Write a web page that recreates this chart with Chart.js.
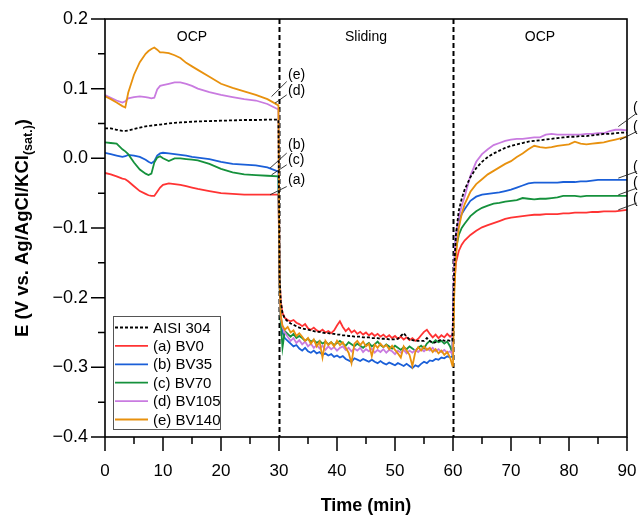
<!DOCTYPE html>
<html>
<head>
<meta charset="utf-8">
<script src="https://cdn.jsdelivr.net/npm/chart.js@4.4.1/dist/chart.umd.min.js"></script>
<style>
  html, body { margin: 0; padding: 0; background: #fff; }
  #c { display: block; }
</style>
</head>
<body>
<canvas id="c" width="638" height="515"></canvas>
<script>
// ---------------- DATA ----------------
// time grid (min): OCP (0-30), Sliding (30-60), OCP (60-90)
const tOCP1 = [0,1,2,3,3.5,4,5,6,7,7.5,8,8.5,9,9.5,10,11,12,13,14,15,16,18,20,22,24,26,28,29.9];
const tSlide = [30.1,30.3,30.6,31,31.5,32,32.5,33,33.5,34,34.5,35,35.5,36,36.5,37,37.5,38,38.5,39,
  39.5,40,40.5,41,41.5,42,42.5,43,43.5,44,44.5,45,45.5,46,46.5,47,47.5,48,48.5,49,
  49.5,50,50.5,51,51.5,52,52.5,53,53.5,54,54.5,55,55.5,56,56.5,57,57.5,58,58.5,59,59.5,59.9];
const tOCP2 = [60,60.2,60.5,61,61.5,62,63,64,65,66,67,68,69,70,71,72,73,74,75,76,77,78,79,80,81,82,83,84,85,86,87,88,89,90];

// AISI 304 (E, V)
const aisi304_ocp1 = [0.043,0.043,0.041,0.0395,0.0395,0.040,0.042,0.044,0.046,0.0465,0.047,0.0475,0.048,0.0485,0.049,0.050,0.051,0.0515,0.052,0.0525,0.053,0.0535,0.054,0.0545,0.055,0.055,0.0555,0.0555];
const aisi304_slide = [-0.170,-0.205,-0.222,-0.230,-0.234,-0.237,-0.239,-0.241,-0.243,-0.244,
  -0.245,-0.246,-0.247,-0.248,-0.249,-0.249,-0.250,-0.251,-0.251,-0.252,
  -0.252,-0.253,-0.253,-0.254,-0.254,-0.255,-0.255,-0.256,-0.256,-0.256,
  -0.257,-0.257,-0.257,-0.258,-0.258,-0.258,-0.259,-0.259,-0.259,-0.260,
  -0.260,-0.260,-0.259,-0.255,-0.251,-0.256,-0.260,-0.261,-0.262,-0.262,
  -0.262,-0.262,-0.258,-0.262,-0.265,-0.264,-0.262,-0.260,-0.262,-0.261,
  -0.262,-0.262];
const aisi304_ocp2 = [-0.23,-0.16,-0.110,-0.075,-0.058,-0.045,-0.027,-0.014,-0.005,0.002,0.007,0.011,0.015,0.018,0.020,0.022,0.024,0.025,0.026,0.027,0.028,0.029,0.030,0.031,0.031,0.032,0.032,0.033,0.034,0.035,0.035,0.036,0.037,0.037];

// (a) BV0
const bv0_ocp1 = [-0.021,-0.023,-0.026,-0.029,-0.030,-0.033,-0.040,-0.047,-0.051,-0.053,-0.054,-0.054,-0.048,-0.042,-0.038,-0.036,-0.037,-0.038,-0.040,-0.042,-0.044,-0.047,-0.050,-0.051,-0.052,-0.052,-0.052,-0.052];
const bv0_slide = [-0.170,-0.205,-0.222,-0.229,-0.232,-0.234,-0.232,-0.236,-0.238,-0.241,
  -0.238,-0.244,-0.246,-0.243,-0.247,-0.249,-0.246,-0.250,-0.248,-0.251,
  -0.247,-0.240,-0.234,-0.242,-0.248,-0.244,-0.250,-0.247,-0.252,-0.249,
  -0.253,-0.250,-0.254,-0.251,-0.255,-0.252,-0.256,-0.253,-0.257,-0.254,
  -0.258,-0.255,-0.259,-0.256,-0.260,-0.257,-0.261,-0.258,-0.262,-0.259,
  -0.254,-0.249,-0.246,-0.252,-0.257,-0.253,-0.258,-0.254,-0.257,-0.252,
  -0.256,-0.253];
const bv0_ocp2 = [-0.245,-0.185,-0.150,-0.133,-0.124,-0.118,-0.110,-0.104,-0.099,-0.096,-0.093,-0.090,-0.087,-0.085,-0.084,-0.083,-0.082,-0.081,-0.081,-0.080,-0.080,-0.080,-0.079,-0.079,-0.078,-0.078,-0.078,-0.077,-0.077,-0.076,-0.076,-0.076,-0.075,-0.074];

// (b) BV35
const bv35_ocp1 = [0.008,0.006,0.004,0.002,0.003,0.005,0.004,0.002,-0.002,-0.005,-0.007,-0.004,0.004,0.007,0.008,0.007,0.006,0.005,0.004,0.002,0.001,-0.001,-0.005,-0.008,-0.009,-0.010,-0.013,-0.019];
const bv35_slide = [-0.180,-0.225,-0.250,-0.258,-0.262,-0.266,-0.270,-0.268,-0.273,-0.276,
  -0.272,-0.277,-0.279,-0.276,-0.280,-0.278,-0.282,-0.280,-0.283,-0.281,
  -0.285,-0.283,-0.286,-0.284,-0.288,-0.290,-0.292,-0.287,-0.289,-0.291,
  -0.288,-0.290,-0.292,-0.289,-0.292,-0.294,-0.291,-0.294,-0.296,-0.293,
  -0.295,-0.297,-0.294,-0.296,-0.298,-0.295,-0.298,-0.301,-0.297,-0.299,
  -0.295,-0.292,-0.294,-0.290,-0.291,-0.288,-0.289,-0.286,-0.287,-0.284,
  -0.286,-0.284];
const bv35_ocp2 = [-0.23,-0.16,-0.110,-0.090,-0.080,-0.073,-0.061,-0.055,-0.052,-0.051,-0.050,-0.049,-0.047,-0.045,-0.042,-0.039,-0.036,-0.035,-0.035,-0.035,-0.035,-0.035,-0.034,-0.034,-0.034,-0.033,-0.033,-0.032,-0.031,-0.031,-0.031,-0.031,-0.031,-0.031];

// (c) BV70
const bv70_ocp1 = [0.023,0.022,0.021,0.013,0.010,0.006,-0.006,-0.016,-0.022,-0.024,-0.022,-0.006,0.001,0.003,0.000,-0.004,0.000,0.000,-0.001,-0.002,-0.003,-0.008,-0.015,-0.020,-0.023,-0.024,-0.025,-0.026];
const bv70_slide = [-0.180,-0.235,-0.272,-0.248,-0.252,-0.256,-0.252,-0.258,-0.255,-0.258,
  -0.262,-0.259,-0.263,-0.261,-0.265,-0.262,-0.266,-0.263,-0.267,-0.264,
  -0.268,-0.265,-0.262,-0.266,-0.269,-0.264,-0.267,-0.270,-0.266,-0.269,
  -0.272,-0.268,-0.265,-0.270,-0.267,-0.263,-0.268,-0.271,-0.267,-0.270,
  -0.273,-0.269,-0.272,-0.275,-0.271,-0.274,-0.270,-0.273,-0.276,-0.272,
  -0.269,-0.273,-0.266,-0.262,-0.265,-0.261,-0.264,-0.262,-0.266,-0.263,
  -0.270,-0.280];
const bv70_ocp2 = [-0.24,-0.17,-0.130,-0.110,-0.100,-0.094,-0.083,-0.076,-0.071,-0.068,-0.065,-0.064,-0.062,-0.061,-0.060,-0.057,-0.058,-0.059,-0.058,-0.058,-0.057,-0.056,-0.054,-0.054,-0.054,-0.055,-0.054,-0.054,-0.054,-0.054,-0.054,-0.054,-0.054,-0.054];

// (d) BV105
const bv105_ocp1 = [0.091,0.087,0.083,0.080,0.082,0.086,0.088,0.089,0.088,0.087,0.086,0.087,0.099,0.104,0.105,0.107,0.109,0.109,0.107,0.104,0.100,0.095,0.091,0.088,0.085,0.083,0.078,0.070];
const bv105_slide = [-0.180,-0.228,-0.242,-0.250,-0.256,-0.262,-0.258,-0.265,-0.261,-0.267,
  -0.263,-0.270,-0.266,-0.272,-0.268,-0.273,-0.269,-0.275,-0.270,-0.274,
  -0.271,-0.276,-0.272,-0.270,-0.275,-0.272,-0.277,-0.273,-0.276,-0.272,
  -0.278,-0.274,-0.277,-0.273,-0.279,-0.275,-0.278,-0.274,-0.279,-0.275,
  -0.277,-0.281,-0.276,-0.279,-0.275,-0.280,-0.276,-0.279,-0.275,-0.278,
  -0.274,-0.277,-0.273,-0.276,-0.272,-0.277,-0.274,-0.278,-0.275,-0.279,
  -0.277,-0.281];
const bv105_ocp2 = [-0.22,-0.15,-0.110,-0.085,-0.068,-0.055,-0.025,-0.005,0.006,0.013,0.019,0.022,0.025,0.027,0.028,0.028,0.029,0.030,0.030,0.034,0.035,0.034,0.034,0.034,0.034,0.034,0.035,0.035,0.036,0.036,0.039,0.041,0.041,0.040];

// (e) BV140
const bv140_ocp1 = [0.089,0.085,0.080,0.075,0.073,0.094,0.120,0.138,0.150,0.154,0.157,0.159,0.156,0.152,0.152,0.151,0.148,0.144,0.137,0.132,0.127,0.117,0.107,0.101,0.096,0.091,0.085,0.076];
const bv140_slide = [-0.180,-0.225,-0.240,-0.246,-0.242,-0.250,-0.247,-0.255,-0.251,-0.256,
  -0.262,-0.258,-0.266,-0.260,-0.270,-0.263,-0.286,-0.262,-0.268,-0.264,
  -0.270,-0.262,-0.268,-0.264,-0.272,-0.279,-0.294,-0.266,-0.262,-0.268,
  -0.263,-0.270,-0.266,-0.284,-0.267,-0.272,-0.266,-0.271,-0.268,-0.274,
  -0.269,-0.275,-0.280,-0.286,-0.270,-0.276,-0.282,-0.298,-0.278,-0.271,
  -0.276,-0.270,-0.275,-0.272,-0.278,-0.274,-0.280,-0.276,-0.282,-0.278,
  -0.286,-0.298];
const bv140_ocp2 = [-0.298,-0.20,-0.140,-0.100,-0.080,-0.066,-0.048,-0.037,-0.030,-0.023,-0.018,-0.013,-0.008,-0.004,0.002,0.007,0.013,0.018,0.016,0.015,0.016,0.018,0.019,0.020,0.024,0.021,0.020,0.021,0.022,0.023,0.025,0.027,0.029,0.031];

const seriesNames = ['AISI 304','(a) BV0','(b) BV35','(c) BV70','(d) BV105','(e) BV140'];
const sectionLabels = ['OCP','Sliding','OCP'];
const sectionCenters = [15, 45, 75];
const phaseBounds = [30, 60];
const xTickLabels = ['0','10','20','30','40','50','60','70','80','90'];
const yTickLabels = ['0.2','0.1','0.0','\u22120.1','\u22120.2','\u22120.3','\u22120.4'];

// ---------------- BUILD ----------------
const time = tOCP1.concat(tSlide, tOCP2);
function pts(a, b, c) { const v = a.concat(b, c); return time.map((t, i) => ({x: t, y: v[i]})); }
const seriesValues = [
  pts(aisi304_ocp1, aisi304_slide, aisi304_ocp2),
  pts(bv0_ocp1, bv0_slide, bv0_ocp2),
  pts(bv35_ocp1, bv35_slide, bv35_ocp2),
  pts(bv70_ocp1, bv70_slide, bv70_ocp2),
  pts(bv105_ocp1, bv105_slide, bv105_ocp2),
  pts(bv140_ocp1, bv140_slide, bv140_ocp2)
];
const styles = [
  {color:'#000000', dash:[3,2], order:0},
  {color:'#FF3333', dash:[], order:5},
  {color:'#1A5FD8', dash:[], order:4},
  {color:'#15913C', dash:[], order:3},
  {color:'#C97BE0', dash:[], order:2},
  {color:'#E8910E', dash:[], order:1}
];
const FONT = '"Liberation Sans", Arial, Helvetica, sans-serif';

// annotation positions in data units: [label, textX, textY, lineFromX, lineFromY, lineToX, lineToY]
const annLeft = [
  ['(e)', 31.55, 0.1198, 31.33, 0.1102, 28.72, 0.0887],
  ['(d)', 31.55, 0.0958, 31.33, 0.0911, 29.31, 0.0792],
  ['(b)', 31.55, 0.0194, 31.33, 0.0075, 28.45, -0.0141],
  ['(c)', 31.55, -0.0022, 31.33, -0.0093, 28.72, -0.0237],
  ['(a)', 31.55, -0.0308, 31.33, -0.0405, 28.45, -0.0524]
];
const annRight = [
  ['(d)', 91.05, 0.0724, 91.67, 0.0648, 88.5, 0.0456],
  ['(e)', 91.05, 0.0452, 91.67, 0.0385, 88.79, 0.0265],
  ['(b)', 91.05, -0.0122, 91.67, -0.0189, 88.5, -0.0284],
  ['(c)', 91.05, -0.0352, 91.67, -0.0428, 88.5, -0.0524],
  ['(a)', 91.05, -0.0581, 91.67, -0.0643, 88.5, -0.0739]
];

const decor = {
  id: 'decor',
  beforeDatasetsDraw(chart) {
    const {ctx, chartArea: a, scales: {x}} = chart;
    ctx.save();
    ctx.strokeStyle = '#000';
    ctx.lineWidth = 2;
    ctx.setLineDash([5, 3]);
    phaseBounds.forEach(t => {
      const px = Math.round(x.getPixelForValue(t)) + 0.5;
      ctx.beginPath(); ctx.moveTo(px, a.top); ctx.lineTo(px, a.bottom); ctx.stroke();
    });
    ctx.restore();
  },
  afterDatasetsDraw(chart) {
    const {ctx, chartArea: a, scales: {x, y}} = chart;
    ctx.save();
    // frame
    ctx.strokeStyle = '#000';
    ctx.lineWidth = 1.6;
    ctx.setLineDash([]);
    ctx.strokeRect(a.left, a.top, a.right - a.left, a.bottom - a.top);
    // ticks
    ctx.lineWidth = 1.5;
    ctx.beginPath();
    for (let t = 0; t <= 90; t += 5) {
      const px = x.getPixelForValue(t);
      const len = (t % 10 === 0) ? 14 : 7;
      ctx.moveTo(px, a.bottom); ctx.lineTo(px, a.bottom + len);
    }
    for (let k = 0; k <= 12; k++) {
      const v = -0.4 + k * 0.05;
      const py = y.getPixelForValue(v);
      const len = (k % 2 === 0) ? 14 : 7;
      ctx.moveTo(a.left, py); ctx.lineTo(a.left - len, py);
    }
    ctx.stroke();

    // section labels
    ctx.fillStyle = '#000';
    ctx.font = '14px ' + FONT;
    ctx.textAlign = 'center';
    ctx.textBaseline = 'middle';
    sectionLabels.forEach((s, i) => ctx.fillText(s, x.getPixelForValue(sectionCenters[i]), y.getPixelForValue(0.174)));

    // annotations
    ctx.lineWidth = 0.9;
    ctx.strokeStyle = '#222';
    ctx.textAlign = 'left';
    ctx.font = '14px ' + FONT;
    annLeft.concat(annRight).forEach(r => {
      ctx.fillText(r[0], x.getPixelForValue(r[1]), y.getPixelForValue(r[2]));
      ctx.beginPath();
      ctx.moveTo(x.getPixelForValue(r[3]), y.getPixelForValue(r[4]));
      ctx.lineTo(x.getPixelForValue(r[5]), y.getPixelForValue(r[6]));
      ctx.stroke();
    });

    // legend
    const lx = 113, ly = 316, lw = 107, lh = 113;
    ctx.fillStyle = '#fff';
    ctx.fillRect(lx, ly, lw, lh);
    ctx.strokeStyle = '#555';
    ctx.lineWidth = 1;
    ctx.strokeRect(lx + 0.5, ly + 0.5, lw, lh);
    ctx.font = '15px ' + FONT;
    ctx.textBaseline = 'middle';
    chart.data.datasets.forEach((ds, i) => {
      const cy = ly + 11.5 + i * 18.4;
      ctx.strokeStyle = ds.borderColor;
      ctx.lineWidth = 1.8;
      ctx.setLineDash(ds.borderDash || []);
      ctx.beginPath(); ctx.moveTo(lx + 2, cy); ctx.lineTo(lx + 35, cy); ctx.stroke();
      ctx.setLineDash([]);
      ctx.fillStyle = '#000';
      ctx.fillText(ds.label, lx + 40, cy + 1);
    });

    // axis titles
    ctx.fillStyle = '#000';
    ctx.textBaseline = 'alphabetic';
    ctx.textAlign = 'center';
    ctx.font = 'bold 18px ' + FONT;
    ctx.fillText('Time (min)', (a.left + a.right) / 2, 511);

    ctx.save();
    ctx.translate(28, (a.top + a.bottom) / 2);
    ctx.rotate(-Math.PI / 2);
    ctx.textAlign = 'left';
    const main = 'E (V vs. Ag/AgCl/KCl', sub = '(sat.)', close = ')';
    ctx.font = 'bold 18.5px ' + FONT;
    const w1 = ctx.measureText(main).width, w3 = ctx.measureText(close).width;
    ctx.font = 'bold 12.5px ' + FONT;
    const w2 = ctx.measureText(sub).width;
    let sx = -(w1 + w2 + w3) / 2;
    ctx.font = 'bold 18.5px ' + FONT;
    ctx.fillText(main, sx, 0); sx += w1;
    ctx.font = 'bold 12.5px ' + FONT;
    ctx.fillText(sub, sx, 4); sx += w2;
    ctx.font = 'bold 18.5px ' + FONT;
    ctx.fillText(close, sx, 0);
    ctx.restore();

    ctx.restore();
  }
};

new Chart(document.getElementById('c'), {
  type: 'line',
  data: {
    datasets: seriesValues.map((d, i) => ({
      label: seriesNames[i],
      data: d,
      borderColor: styles[i].color,
      backgroundColor: styles[i].color,
      borderDash: styles[i].dash,
      borderWidth: 1.8,
      pointRadius: 0,
      tension: 0,
      fill: false,
      order: styles[i].order
    }))
  },
  options: {
    responsive: false,
    devicePixelRatio: 1,
    animation: false,
    layout: { padding: { top: 19, right: 11, left: 0, bottom: 0 } },
    plugins: { legend: { display: false }, tooltip: { enabled: false } },
    scales: {
      x: {
        type: 'linear', min: 0, max: 90,
        grid: { display: false },
        border: { display: false },
        ticks: {
          stepSize: 10, padding: 16, color: '#000', maxRotation: 0,
          font: { size: 17, family: FONT },
          callback: (v) => { const i = Math.round(v / 10); return (Math.abs(v - i * 10) < 1e-6) ? xTickLabels[i] : ''; }
        },
        afterFit: (s) => { s.height = 78; s.paddingLeft = 0; s.paddingRight = 0; }
      },
      y: {
        type: 'linear', min: -0.4, max: 0.2,
        grid: { display: false },
        border: { display: false },
        ticks: {
          stepSize: 0.1, padding: 9, color: '#000',
          font: { size: 18, family: FONT },
          callback: (v) => { const i = Math.round((0.2 - v) / 0.1); return (Math.abs(0.2 - i * 0.1 - v) < 1e-6) ? yTickLabels[i] : ''; }
        },
        afterFit: (s) => { s.width = 105; s.paddingTop = 0; s.paddingBottom = 0; }
      }
    }
  },
  plugins: [decor]
});
</script>
</body>
</html>
